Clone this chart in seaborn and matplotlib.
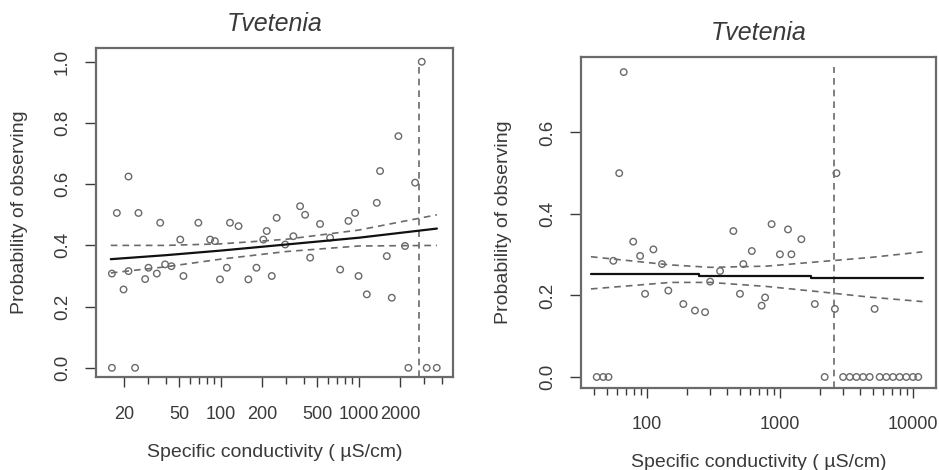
import numpy as np
import pandas as pd
import matplotlib
matplotlib.use('Agg')
import matplotlib.pyplot as plt
import matplotlib.ticker as mticker
import seaborn as sns

# ---- data ----
# left panel: observed proportions
left_cond = [16.3, 17.7, 16.3, 19.8, 21.5, 24, 21.5, 25.4, 28.4, 30, 34.5, 36.5, 39.6, 44,
             51, 53.8, 69, 84, 91, 99, 111, 117, 135, 159, 182, 204, 216, 235, 255, 294,
             337, 377, 410, 446, 526, 622, 736, 845, 944, 1000, 1148, 1356, 1433, 1603,
             1742, 1946, 2174, 2298, 2571, 2873, 3121, 3690]
left_prob = [0.0, 0.506, 0.308, 0.256, 0.625, 0.0, 0.316, 0.506, 0.29, 0.327, 0.308, 0.474,
             0.338, 0.332, 0.419, 0.30, 0.474, 0.419, 0.414, 0.289, 0.327, 0.474, 0.463,
             0.289, 0.327, 0.419, 0.447, 0.30, 0.49, 0.403, 0.43, 0.528, 0.50, 0.36, 0.47,
             0.425, 0.321, 0.48, 0.506, 0.30, 0.24, 0.539, 0.643, 0.365, 0.229, 0.757,
             0.398, 0.0, 0.605, 1.0, 0.0, 0.0]
# left panel: fitted curve and confidence bounds
left_fit_x = [16, 40, 100, 300, 1000, 3700]
left_fit = [0.355, 0.368, 0.383, 0.403, 0.425, 0.455]
left_upper = [0.40, 0.40, 0.405, 0.42, 0.45, 0.50]
left_lower = [0.31, 0.33, 0.355, 0.38, 0.398, 0.40]
left_threshold = 2750

# right panel: observed proportions
right_cond = [42, 47, 51.5, 56, 67, 62, 79, 89, 97, 112, 130, 145, 188, 230, 274, 299, 355,
              447, 501, 531, 615, 729, 774, 866, 1000, 1150, 1220, 1450, 1830, 2170, 2590,
              2660, 2985, 3350, 3760, 4220, 4730, 5150, 5620, 6310, 7080, 7940, 8910,
              10000, 10960]
right_prob = [0.0, 0.0, 0.0, 0.285, 0.748, 0.50, 0.332, 0.297, 0.204, 0.313, 0.277, 0.212,
              0.179, 0.163, 0.159, 0.234, 0.26, 0.358, 0.204, 0.277, 0.309, 0.175, 0.195,
              0.375, 0.301, 0.362, 0.301, 0.338, 0.179, 0.0, 0.167, 0.50, 0.0, 0.0, 0.0,
              0.0, 0.0, 0.167, 0.0, 0.0, 0.0, 0.0, 0.0, 0.0, 0.0]
# right panel: fitted curve (stepped) and confidence bounds
right_fit_x = [38, 245, 245, 1700, 1700, 11800]
right_fit = [0.252, 0.252, 0.247, 0.247, 0.242, 0.242]
right_ci_x = [38, 150, 300, 800, 2000, 4700, 11800]
right_upper = [0.295, 0.275, 0.269, 0.272, 0.283, 0.293, 0.307]
right_lower = [0.216, 0.232, 0.232, 0.222, 0.209, 0.196, 0.185]
right_threshold = 2550

title = 'Tvetenia'
xlab = 'Specific conductivity ( \u00b5S/cm)'
ylab = 'Probability of observing'

sns.set_theme(style='white')
plt.rcParams['font.family'] = ['Liberation Sans', 'DejaVu Sans']

ink = '#3a3a3a'
grey = '#6a6a6a'

fig = plt.figure(figsize=(9.39, 4.70), dpi=100)
ax1 = fig.add_axes([96 / 939, 1 - 377 / 470, 357 / 939, 329 / 470])
ax2 = fig.add_axes([581 / 939, 1 - 388 / 470, 355 / 939, 331 / 470])


def draw_panel(ax, cx, cp, fx, fy, ux, up, lo, xlim, ylim, thr, thr_top):
    ax.set_xscale('log')
    ax.set_xlim(*xlim)
    ax.set_ylim(*ylim)
    pts = pd.DataFrame({'cond': cx, 'prob': cp})
    sns.scatterplot(data=pts, x='cond', y='prob', ax=ax, marker='o', s=22,
                    facecolor='none', edgecolor=grey, linewidth=1.0, zorder=3)
    fit = pd.DataFrame({'cond': fx, 'prob': fy})
    sns.lineplot(data=fit, x='cond', y='prob', ax=ax, estimator=None, sort=False,
                 color='#111111', linewidth=1.6, zorder=4)
    ci = pd.DataFrame({'cond': ux, 'upper': up, 'lower': lo})
    for col in ['upper', 'lower']:
        sns.lineplot(data=ci, x='cond', y=col, ax=ax, estimator=None, sort=False,
                     color=grey, linewidth=1.2, linestyle=(0, (4, 3)), zorder=4)
    ax.set_xlim(*xlim)
    ax.set_ylim(*ylim)
    ax.axvline(thr, ymin=0, ymax=(thr_top - ylim[0]) / (ylim[1] - ylim[0]),
               color=grey, linewidth=1.2, linestyle=(0, (4, 3)), zorder=2)


draw_panel(ax1, left_cond, left_prob, left_fit_x, left_fit, left_fit_x,
           left_upper, left_lower, (12.5, 4840), (-0.03, 1.045), left_threshold, 1.0)
draw_panel(ax2, right_cond, right_prob, right_fit_x, right_fit, right_ci_x,
           right_upper, right_lower, (32, 14900), (-0.027, 0.785), right_threshold, 0.76)

ax1.xaxis.set_major_locator(mticker.FixedLocator([20, 50, 100, 200, 500, 1000, 2000]))
ax1.xaxis.set_minor_locator(mticker.FixedLocator([30, 40, 60, 70, 80, 90, 300, 400, 600,
                                                  700, 800, 900, 3000, 4000]))
ax1.set_yticks([0.0, 0.2, 0.4, 0.6, 0.8, 1.0])
ax2.xaxis.set_major_locator(mticker.FixedLocator([100, 1000, 10000]))
ax2.xaxis.set_minor_locator(mticker.FixedLocator([40, 50, 60, 70, 80, 90, 200, 300, 400,
                                                  500, 600, 700, 800, 900, 2000, 3000,
                                                  4000, 5000, 6000, 7000, 8000, 9000]))
ax2.set_yticks([0.0, 0.2, 0.4, 0.6])

for ax, xpad, ty, xly, yly in [(ax1, 14, 1.073, -0.228, -0.213),
                               (ax2, 13, 1.0725, -0.2236, -0.217)]:
    ax.xaxis.set_major_formatter(mticker.FuncFormatter(lambda v, p: '%d' % v))
    ax.xaxis.set_minor_formatter(mticker.NullFormatter())
    ax.yaxis.set_major_formatter(mticker.FuncFormatter(lambda v, p: '%.1f' % v))
    ax.tick_params(axis='x', which='major', direction='out', length=7, width=1.0,
                   colors=ink, labelsize=13, pad=xpad, bottom=True)
    ax.tick_params(axis='x', which='minor', direction='out', length=5, width=1.0,
                   colors=ink, bottom=True)
    ax.tick_params(axis='y', which='major', direction='out', length=8, width=1.0,
                   colors=ink, labelsize=13.5, pad=10, left=True, labelrotation=90)
    for lab in ax.get_yticklabels():
        lab.set_va('center')
    for sp in ax.spines.values():
        sp.set_color(grey)
        sp.set_linewidth(1.6)
    ax.set_title(title, fontsize=18, style='italic', color=ink, y=ty, va='center', pad=0)
    ax.set_xlabel(xlab, fontsize=14, color=ink)
    ax.set_ylabel(ylab, fontsize=14, color=ink)
    ax.xaxis.set_label_coords(0.5, xly)
    ax.xaxis.label.set_va('center')
    ax.yaxis.set_label_coords(yly, 0.5)
    ax.yaxis.label.set_va('center')

fig.savefig('out.png', dpi=100, facecolor='white')
